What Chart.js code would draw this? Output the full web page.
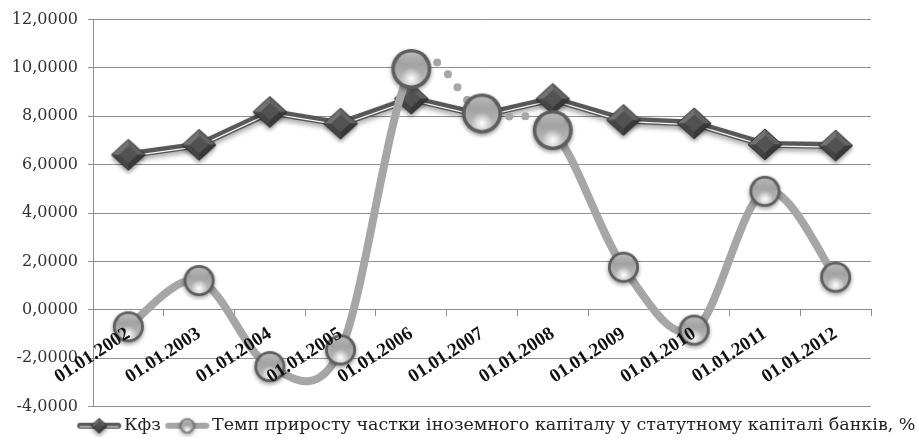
<!DOCTYPE html>
<html>
<head>
<meta charset="utf-8">
<script src="https://cdn.jsdelivr.net/npm/chart.js@4.4.0/dist/chart.umd.min.js"></script>
<style>
  body { margin: 0; background: #fff; }
  #wrap { width: 919px; height: 441px; }
</style>
</head>
<body>
<div id="wrap"><canvas id="myChart" width="919" height="441"></canvas></div>
<script>
// dati
const labels = ['01.01.2002', '01.01.2003', '01.01.2004', '01.01.2005', '01.01.2006', '01.01.2007',
    '01.01.2008', '01.01.2009', '01.01.2010', '01.01.2011', '01.01.2012'];
const kfz = [6.41, 6.82, 8.18, 7.70, 8.73, 8.05, 8.72, 7.85, 7.71, 6.84, 6.79];
const temp = [-0.70, 1.21, -2.35, -1.66, 9.96, 8.12, 7.43, 1.76, -0.84, 4.90, 1.35];
const yTicks = [-4, -2, 0, 2, 4, 6, 8, 10, 12];

const kfzName = 'Кфз';
const tempName = 'Темп приросту частки іноземного капіталу у статутному капіталі банків, %';

// marker a sfera
function makeSphere(r) {
    const pad = 5;
    const c = document.createElement('canvas');
    c.width = c.height = Math.ceil(2 * r + 2 * pad);
    const g = c.getContext('2d');
    const cx = c.width / 2, cy = c.height / 2;
    g.save();
    g.shadowColor = 'rgba(0,0,0,0.4)';
    g.shadowBlur = 4;
    g.shadowOffsetY = 2;
    g.beginPath();
    g.arc(cx, cy, r, 0, Math.PI * 2);
    g.fillStyle = '#5e5e5e';
    g.fill();
    g.restore();
    // corpo grigio, più chiaro in basso
    const body = g.createLinearGradient(0, cy - r, 0, cy + r);
    body.addColorStop(0, '#8e8e8e');
    body.addColorStop(1, '#c4c4c4');
    g.beginPath();
    g.arc(cx, cy, r * 0.82, 0, Math.PI * 2);
    g.fillStyle = body;
    g.fill();
    const spot = g.createRadialGradient(cx, cy + r * 0.5, 0, cx, cy + r * 0.5, r * 0.55);
    spot.addColorStop(0, 'rgba(255,255,255,1)');
    spot.addColorStop(0.4, 'rgba(255,255,255,0.6)');
    spot.addColorStop(1, 'rgba(255,255,255,0)');
    g.save();
    g.beginPath();
    g.arc(cx, cy, r * 0.82, 0, Math.PI * 2);
    g.clip();
    g.fillStyle = spot;
    g.fillRect(0, 0, c.width, c.height);
    g.restore();
    // riflesso in alto
    const hl = g.createLinearGradient(0, cy - r, 0, cy - r * 0.2);
    hl.addColorStop(0, 'rgba(255,255,255,0.45)');
    hl.addColorStop(1, 'rgba(255,255,255,0)');
    g.beginPath();
    g.ellipse(cx, cy - r * 0.5, r * 0.6, r * 0.32, 0, 0, Math.PI * 2);
    g.fillStyle = hl;
    g.fill();
    return c;
}

// marker a rombo
function makeDiamond(w, h) {
    const pad = 5;
    const c = document.createElement('canvas');
    c.width = Math.ceil(w + 2 * pad);
    c.height = Math.ceil(h + 2 * pad);
    const g = c.getContext('2d');
    const cx = c.width / 2, cy = c.height / 2;
    const T = [cx, cy - h / 2], R = [cx + w / 2, cy], B = [cx, cy + h / 2], L = [cx - w / 2, cy];
    g.save();
    g.shadowColor = 'rgba(0,0,0,0.4)';
    g.shadowBlur = 4;
    g.shadowOffsetY = 3;
    g.beginPath();
    g.moveTo(...T); g.lineTo(...R); g.lineTo(...B); g.lineTo(...L); g.closePath();
    g.fillStyle = '#4a4a4a';
    g.fill();
    g.restore();
    const k = 0.55;
    const t = [cx, cy - h / 2 * k], r = [cx + w / 2 * k, cy], b = [cx, cy + h / 2 * k], l = [cx - w / 2 * k, cy];
    const faces = [
        [T, R, r, t, '#626262'],
        [R, B, b, r, '#383838'],
        [B, L, l, b, '#444'],
        [L, T, t, l, '#727272']
    ];
    faces.forEach(f => {
        g.beginPath();
        g.moveTo(...f[0]); g.lineTo(...f[1]); g.lineTo(...f[2]); g.lineTo(...f[3]); g.closePath();
        g.fillStyle = f[4];
        g.fill();
    });
    g.beginPath();
    g.moveTo(...t); g.lineTo(...r); g.lineTo(...b); g.lineTo(...l); g.closePath();
    g.fillStyle = '#525252';
    g.fill();
    g.beginPath();
    g.moveTo(...T); g.lineTo(...R); g.lineTo(...B); g.lineTo(...L); g.closePath();
    g.strokeStyle = '#262626';
    g.lineWidth = 0.8;
    g.stroke();
    return c;
}

// simboli della legenda
function legendSymbol(kind) {
    const c = document.createElement('canvas');
    c.width = 46;
    c.height = 22;
    const g = c.getContext('2d');
    const y = 11;
    g.lineCap = 'round';
    if (kind === 'kfz') {
        g.beginPath(); g.moveTo(4, y); g.lineTo(42, y);
        g.strokeStyle = '#5a5a5a'; g.lineWidth = 6; g.stroke();
        g.beginPath(); g.moveTo(4, y + 1); g.lineTo(42, y + 1);
        g.strokeStyle = '#f2f2f2'; g.lineWidth = 1.2; g.stroke();
        const d = makeDiamond(16, 15);
        g.drawImage(d, 23 - d.width / 2, y - d.height / 2);
    } else {
        g.beginPath(); g.moveTo(4, y); g.lineTo(42, y);
        g.strokeStyle = '#a6a6a6'; g.lineWidth = 6; g.stroke();
        const s = makeSphere(7.5);
        g.drawImage(s, 23 - s.width / 2, y - s.height / 2);
    }
    return c;
}

const sphereSmall = makeSphere(15.5);
const sphereBig = makeSphere(20);
const diamond = makeDiamond(34, 31);

// ombra per la linea scura, linea bianca spostata in basso
const lineFx = {
    id: 'lineFx',
    beforeDatasetDraw(chart, args) {
        const ds = chart.data.datasets[args.index];
        const ctx = chart.ctx;
        if (ds.fx === 'shadow') {
            ctx.save();
            ctx.shadowColor = 'rgba(0,0,0,0.35)';
            ctx.shadowBlur = 5;
            ctx.shadowOffsetY = 3;
        } else if (ds.fx === 'shift') {
            ctx.save();
            ctx.translate(0, 1.5);
        }
    },
    afterDatasetDraw(chart, args) {
        const ds = chart.data.datasets[args.index];
        if (ds.fx) chart.ctx.restore();
    }
};

// curva "smussata" come in Excel: punti di controllo a 1/6 tra i vicini
const excelSmooth = {
    id: 'excelSmooth',
    beforeDatasetDraw(chart, args) {
        const ds = chart.data.datasets[args.index];
        if (!ds.excelSmooth) return;
        args.meta.dataset.updateControlPoints(chart.chartArea);
        const pts = args.meta.data;
        for (let i = 0; i < pts.length; i++) {
            const p = pts[i];
            const prev = pts[i - 1] || p;
            const next = pts[i + 1] || p;
            const dx = (next.x - prev.x) / 6;
            const dy = (next.y - prev.y) / 6;
            p.cp1x = p.x - dx;
            p.cp1y = p.y - dy;
            p.cp2x = p.x + dx;
            p.cp2y = p.y + dy;
        }
    }
};

const gridColor = '#8f8f8f';

new Chart(
    document.getElementById('myChart'),
    {
        type: 'line',
        data: {
            labels: labels,
            datasets: [
                {
                    label: tempName,
                    data: temp,
                    excelSmooth: true,
                    borderColor: '#a6a6a6',
                    borderWidth: 8,
                    borderCapStyle: 'round',
                    tension: 0.4,
                    clip: false,
                    pointStyle: ctx => (ctx.dataIndex >= 4 && ctx.dataIndex <= 6) ? sphereBig : sphereSmall,
                    segment: {
                        borderDash: ctx => (ctx.p0DataIndex === 4 || ctx.p0DataIndex === 5) ? [0, 16] : undefined
                    }
                },
                {
                    label: kfzName,
                    data: kfz,
                    showLine: false,
                    clip: false,
                    pointStyle: diamond
                },
                {
                    label: 'kfz-light',
                    data: kfz,
                    fx: 'shift',
                    borderColor: '#f4f4f4',
                    borderWidth: 1.3,
                    pointRadius: 0,
                    tension: 0,
                    clip: false
                },
                {
                    label: 'kfz-dark',
                    data: kfz,
                    fx: 'shadow',
                    borderColor: '#585858',
                    borderWidth: 7,
                    borderJoinStyle: 'round',
                    pointRadius: 0,
                    tension: 0,
                    clip: false
                }
            ]
        },
        options: {
            responsive: false,
            animation: false,
            layout: { padding: { top: 17, left: 0, right: -7, bottom: -3.5 } },
            plugins: {
                tooltip: { enabled: false },
                legend: {
                    position: 'bottom',
                    align: 'end',
                    labels: {
                        usePointStyle: true,
                        pointStyleWidth: 32,
                        padding: 10.5,
                        color: '#222',
                        font: { family: 'DejaVu Serif', size: 17.5 },
                        generateLabels: () => [
                            { text: kfzName, pointStyle: legendSymbol('kfz'), datasetIndex: 1, fontColor: '#222', lineWidth: 0 },
                            { text: tempName, pointStyle: legendSymbol('temp'), datasetIndex: 0, fontColor: '#222', lineWidth: 0 }
                        ]
                    }
                }
            },
            scales: {
                x: {
                    position: { y: 0 },
                    offset: true,
                    grid: { drawOnChartArea: false, drawTicks: true, tickLength: 6, color: gridColor, offset: true },
                    border: { display: true, color: gridColor },
                    ticks: {
                        z: 1,
                        autoSkip: false,
                        minRotation: 33,
                        maxRotation: 33,
                        padding: 7,
                        color: '#111',
                        font: { family: 'Liberation Serif', size: 19, weight: 'bold' }
                    }
                },
                y: {
                    min: yTicks[0],
                    max: yTicks[yTicks.length - 1],
                    afterBuildTicks: s => { s.ticks = yTicks.map(v => ({ value: v })); },
                    afterFit: s => { s.width = 93; },
                    grid: { color: gridColor, tickLength: 5 },
                    border: { display: true, color: gridColor },
                    ticks: {
                        padding: 10,
                        color: '#333',
                        font: { family: 'DejaVu Serif', size: 16 },
                        callback: v => v.toFixed(4).replace('.', ',')
                    }
                },
                yr: {
                    type: 'linear',
                    position: 'right',
                    min: 0,
                    max: 1,
                    grid: { display: false },
                    border: { display: false },
                    ticks: { display: false },
                    afterFit: s => { s.width = 55; }
                }
            }
        },
        plugins: [lineFx, excelSmooth]
    }
);
</script>
</body>
</html>
